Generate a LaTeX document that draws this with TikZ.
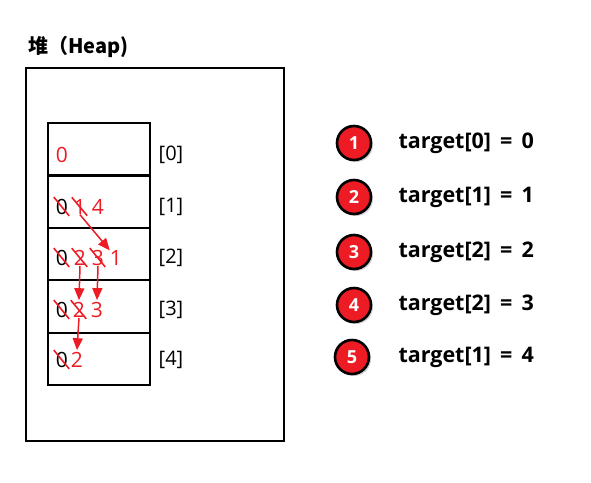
\documentclass[tikz,border=0pt]{standalone}
\usepackage{fontspec}
\setmainfont{Open Sans}
\newfontfamily\cjk{Noto Sans CJK SC}
\usetikzlibrary{arrows.meta, shadows, positioning}
\definecolor{heapred}{RGB}{237,28,36}

\begin{document}
\begin{tikzpicture}[x=1pt, y=-1pt,
  cell/.style={draw, line width=2.2pt, minimum width=102pt, minimum height=52.4pt, anchor=north west, inner sep=0pt},
  num/.style={font=\fontsize{21}{21}\selectfont, inner sep=0pt, text=heapred},
  old/.style={num, text=black},
  idx/.style={font=\fontsize{20}{20}\selectfont, inner sep=0pt},
  slash/.style={heapred, line width=1.6pt},
  arr/.style={heapred, line width=1.5pt, -{Triangle[width=10pt,length=12pt]}},
  stepdot/.style={circle, draw=black, line width=2.6pt, fill=heapred, minimum size=34pt, inner sep=0pt,
    text=white, font=\bfseries\fontsize{18}{18}\selectfont, drop shadow={opacity=0.35, shadow xshift=2pt, shadow yshift=-2pt}},
  steptext/.style={font=\bfseries\fontsize{21.5}{22}\selectfont, inner sep=0pt, anchor=west}
]
\useasboundingbox (0,0) rectangle (591,482);

% title and heap frame
\node[anchor=west, inner sep=0pt, font=\cjk\bfseries\fontsize{20}{20}\selectfont] (title) at (28,47) {堆（Heap)};
\draw[line width=2pt] (26,68) rectangle (284,441);

% cells [0]..[4]
\foreach \i in {0,...,4}
{
    \node[cell] (c\i) at (47,{122+52.4*\i}) {};
}
\foreach \i/\y in {0/155,1/207,2/258,3/310,4/360}
{
    \node[idx] (i\i) at (171,\y) {[\i]};
}

% values in the cells
\node[num] (r0a) at (62,155) {0};
\node[old] (r1a) at (62,207) {0};
\node[num] (r1b) at (80,207) {1};
\node[num] (r1c) at (98,207) {4};
\node[old] (r2a) at (62,258) {0};
\node[num] (r2b) at (80,258) {2};
\node[num] (r2c) at (98,258) {3};
\node[num] (r2d) at (116,258) {1};
\node[old] (r3a) at (62,310) {0};
\node[num] (r3b) at (79,310) {2};
\node[num] (r3c) at (97,310) {3};
\node[old] (r4a) at (62,360) {0};
\node[num] (r4b) at (77,360) {2};

% crossed-out values
\foreach \n in {r1a,r1b,r2a,r2b,r2c,r3a,r3b,r4a}
{
    \draw[slash] ([shift={(-2pt,2pt)}]\n.north west) -- ([shift={(1pt,-1pt)}]\n.south east);
}

% moves
\draw[arr] (r1b.south) -- (r2d.north west);
\draw[arr] (r2b.south) -- ([yshift=2pt]r3b.north);
\draw[arr] (r2c.south) -- ([yshift=2pt]r3c.north);
\draw[arr] (r3b.south) -- ([yshift=2pt]r4b.north);

% steps
\node[stepdot] (s1) at (354,143) {1};
\node[stepdot] (s2) at (354,197) {2};
\node[stepdot] (s3) at (354,252) {3};
\node[stepdot] (s4) at (354,305) {4};
\node[stepdot] (s5) at (352,357) {5};
\node[steptext, right=26pt of s1] (t1) {target[0] \,=\, 0};
\node[steptext, right=26pt of s2] (t2) {target[1] \,=\, 1};
\node[steptext, right=26pt of s3] (t3) {target[2] \,=\, 2};
\node[steptext, right=26pt of s4] (t4) {target[2] \,=\, 3};
\node[steptext, right=28pt of s5] (t5) {target[1] \,=\, 4};

\end{tikzpicture}
\end{document}
